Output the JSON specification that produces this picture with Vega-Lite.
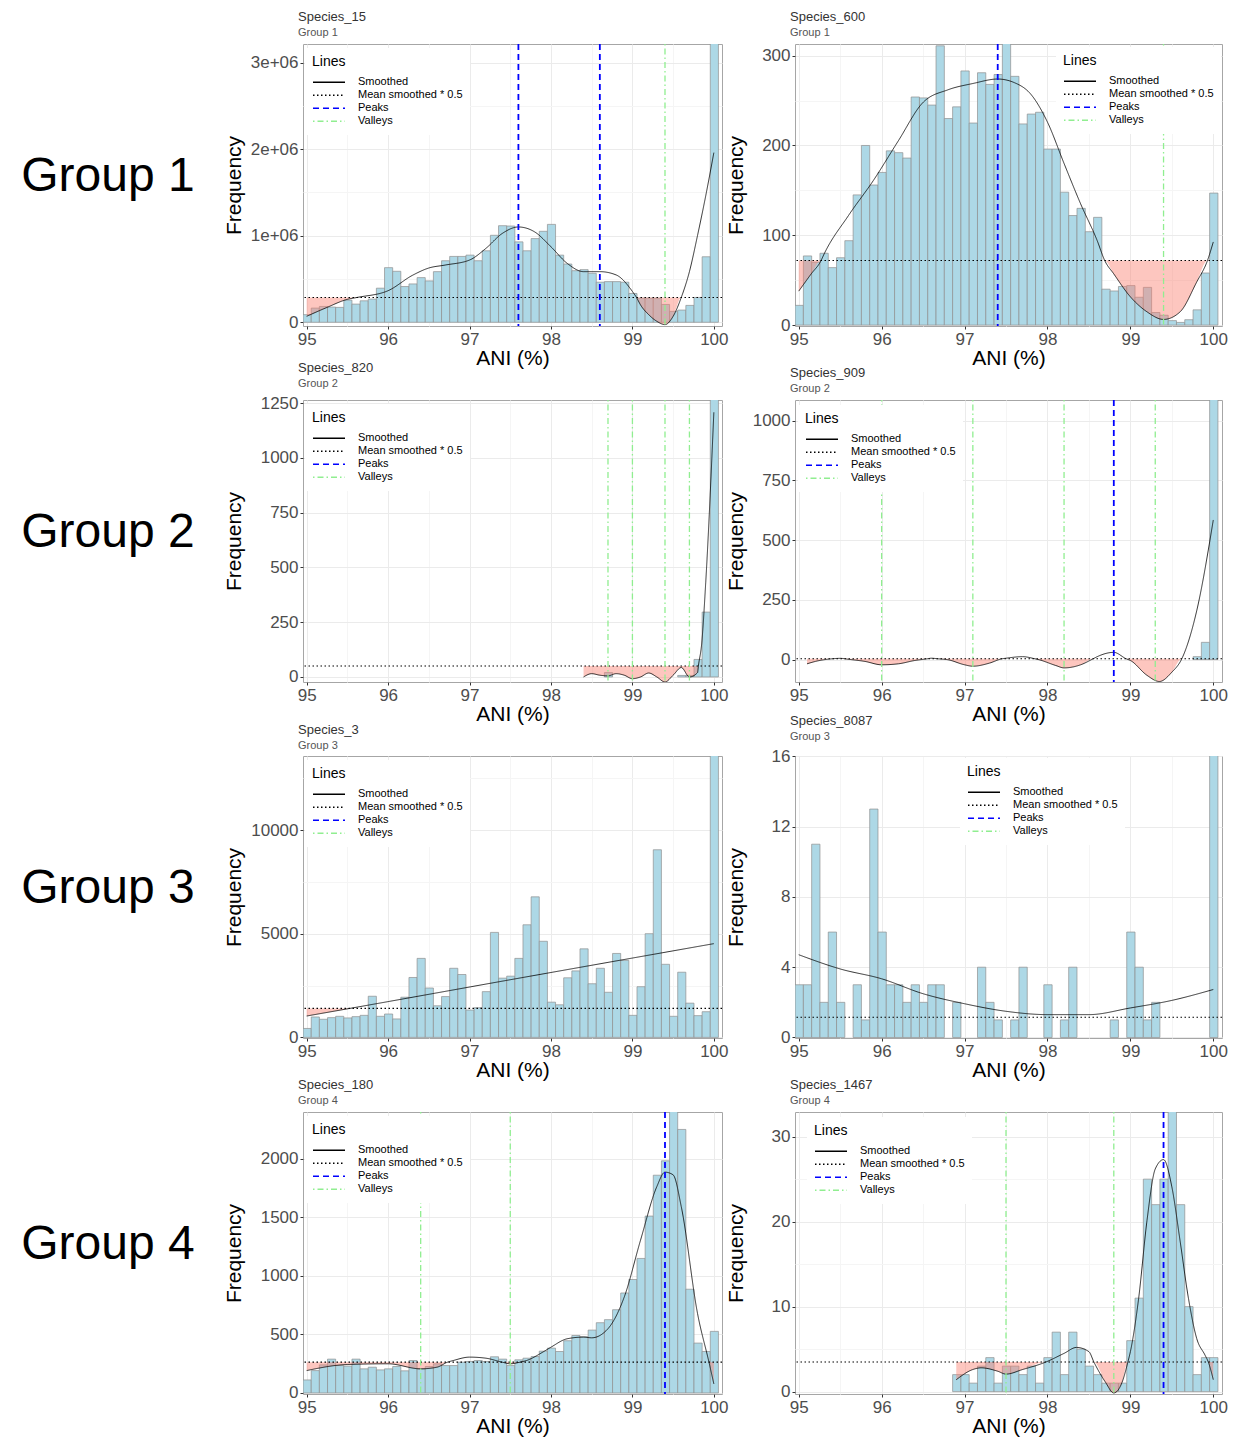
{
"$schema": "https://vega.github.io/schema/vega-lite/v6.json",
"padding": {"left": 0, "top": 10, "right": 0, "bottom": 0},
"background": "white",
"bounds": "flush",
"columns": 3,
"spacing": {"row": 74, "column": 73},
"resolve": {"scale": {"color": "independent", "strokeDash": "independent"}, "legend": {"color": "independent", "strokeDash": "independent"}},
"datasets": {
"b15": [{"x":94.95,"n":88000},{"x":95.05,"n":164000},{"x":95.15,"n":183000},{"x":95.25,"n":176000},{"x":95.35,"n":172000},{"x":95.45,"n":256000},{"x":95.55,"n":210000},{"x":95.65,"n":248000},{"x":95.75,"n":268000},{"x":95.85,"n":394000},{"x":95.95,"n":631000},{"x":96.05,"n":589000},{"x":96.15,"n":413000},{"x":96.25,"n":443000},{"x":96.35,"n":516000},{"x":96.45,"n":478000},{"x":96.55,"n":585000},{"x":96.65,"n":711000},{"x":96.75,"n":761000},{"x":96.85,"n":761000},{"x":96.95,"n":776000},{"x":97.05,"n":711000},{"x":97.15,"n":826000},{"x":97.25,"n":1005000},{"x":97.35,"n":1116000},{"x":97.45,"n":1112000},{"x":97.55,"n":929000},{"x":97.65,"n":826000},{"x":97.75,"n":967000},{"x":97.85,"n":1051000},{"x":97.95,"n":1131000},{"x":98.05,"n":776000},{"x":98.15,"n":673000},{"x":98.25,"n":596000},{"x":98.35,"n":608000},{"x":98.45,"n":566000},{"x":98.55,"n":463000},{"x":98.65,"n":470000},{"x":98.75,"n":470000},{"x":98.85,"n":463000},{"x":98.95,"n":333000},{"x":99.05,"n":279000},{"x":99.15,"n":279000},{"x":99.25,"n":279000},{"x":99.35,"n":206000},{"x":99.45,"n":126000},{"x":99.55,"n":141000},{"x":99.65,"n":195000},{"x":99.75,"n":287000},{"x":99.85,"n":757000},{"x":99.95,"n":3600000}],
"s15": [{"x":95.0,"s":69000,"lo":69000},{"x":95.25,"s":172000,"lo":172000},{"x":95.5,"s":265000,"lo":265000},{"x":95.62,"s":287000,"lo":287000},{"x":96.0,"s":365000,"lo":287000},{"x":96.3,"s":543000,"lo":287000},{"x":96.5,"s":627000,"lo":287000},{"x":96.7,"s":661000,"lo":287000},{"x":97.0,"s":719000,"lo":287000},{"x":97.2,"s":853000,"lo":287000},{"x":97.4,"s":1025000,"lo":287000},{"x":97.6,"s":1101000,"lo":287000},{"x":97.8,"s":1044000,"lo":287000},{"x":98.0,"s":872000,"lo":287000},{"x":98.2,"s":680000,"lo":287000},{"x":98.4,"s":585000,"lo":287000},{"x":98.6,"s":585000,"lo":287000},{"x":98.8,"s":547000,"lo":287000},{"x":99.0,"s":356000,"lo":287000},{"x":99.05,"s":287000,"lo":287000},{"x":99.1,"s":200000,"lo":200000},{"x":99.2,"s":88000,"lo":88000},{"x":99.3,"s":11000,"lo":11000},{"x":99.4,"s":-27000,"lo":-27000},{"x":99.5,"s":69000,"lo":69000},{"x":99.6,"s":287000,"lo":287000},{"x":99.7,"s":585000,"lo":287000},{"x":99.8,"s":1005000,"lo":287000},{"x":99.9,"s":1460000,"lo":287000},{"x":100.0,"s":1960000,"lo":287000}],
"b600": [{"x":94.95,"n":22},{"x":95.05,"n":77},{"x":95.15,"n":70},{"x":95.25,"n":80},{"x":95.35,"n":64},{"x":95.45,"n":75},{"x":95.55,"n":94},{"x":95.65,"n":145},{"x":95.75,"n":200},{"x":95.85,"n":156},{"x":95.95,"n":170},{"x":96.05,"n":194},{"x":96.15,"n":192},{"x":96.25,"n":186},{"x":96.35,"n":254},{"x":96.45,"n":253},{"x":96.55,"n":245},{"x":96.65,"n":311},{"x":96.75,"n":230},{"x":96.85,"n":243},{"x":96.95,"n":283},{"x":97.05,"n":225},{"x":97.15,"n":281},{"x":97.25,"n":268},{"x":97.35,"n":279},{"x":97.45,"n":330},{"x":97.55,"n":277},{"x":97.65,"n":224},{"x":97.75,"n":235},{"x":97.85,"n":237},{"x":97.95,"n":196},{"x":98.05,"n":196},{"x":98.15,"n":148},{"x":98.25,"n":122},{"x":98.35,"n":130},{"x":98.45,"n":104},{"x":98.55,"n":120},{"x":98.65,"n":40},{"x":98.75,"n":38},{"x":98.85,"n":43},{"x":98.95,"n":44},{"x":99.05,"n":31},{"x":99.15,"n":42},{"x":99.25,"n":14},{"x":99.35,"n":11},{"x":99.45,"n":5},{"x":99.55,"n":3},{"x":99.65,"n":6},{"x":99.75,"n":17},{"x":99.85,"n":58},{"x":99.95,"n":147}],
"s600": [{"x":95.0,"s":37.8,"lo":37.8},{"x":95.15,"s":57,"lo":57},{"x":95.27,"s":72,"lo":72},{"x":95.3,"s":78,"lo":72},{"x":95.6,"s":122,"lo":72},{"x":95.9,"s":161,"lo":72},{"x":96.2,"s":205,"lo":72},{"x":96.5,"s":248,"lo":72},{"x":96.8,"s":262,"lo":72},{"x":97.1,"s":269,"lo":72},{"x":97.4,"s":274,"lo":72},{"x":97.6,"s":270,"lo":72},{"x":97.8,"s":257,"lo":72},{"x":98.0,"s":226,"lo":72},{"x":98.2,"s":180,"lo":72},{"x":98.4,"s":135,"lo":72},{"x":98.6,"s":94,"lo":72},{"x":98.69,"s":72,"lo":72},{"x":98.8,"s":57,"lo":57},{"x":99.0,"s":31.5,"lo":31.5},{"x":99.2,"s":14.8,"lo":14.8},{"x":99.4,"s":6.3,"lo":6.3},{"x":99.6,"s":14.8,"lo":14.8},{"x":99.8,"s":48,"lo":48},{"x":99.93,"s":72,"lo":72},{"x":100.0,"s":92.6,"lo":72}],
"b820": [{"x":98.65,"n":20},{"x":99.55,"n":7},{"x":99.65,"n":7},{"x":99.75,"n":80},{"x":99.85,"n":296},{"x":99.95,"n":1500}],
"s820": [{"x":98.4,"s":0,"lo":0},{"x":98.5,"s":15,"lo":15},{"x":98.6,"s":8,"lo":8},{"x":98.7,"s":5,"lo":5},{"x":98.8,"s":15,"lo":15},{"x":98.9,"s":8,"lo":8},{"x":99.0,"s":-8,"lo":-8},{"x":99.1,"s":0,"lo":0},{"x":99.2,"s":18,"lo":18},{"x":99.3,"s":0,"lo":0},{"x":99.4,"s":-23,"lo":-23},{"x":99.5,"s":8,"lo":8},{"x":99.6,"s":43,"lo":43},{"x":99.7,"s":0,"lo":0},{"x":99.8,"s":20,"lo":20},{"x":99.81,"s":50,"lo":50},{"x":99.85,"s":150,"lo":50},{"x":99.9,"s":430,"lo":50},{"x":100.0,"s":1208,"lo":50}],
"b909": [{"x":99.75,"n":12},{"x":99.85,"n":72},{"x":99.95,"n":1500}],
"s909": [{"x":95.1,"s":-18,"lo":-18},{"x":95.2,"s":-8,"lo":-8},{"x":95.4,"s":3,"lo":3},{"x":95.5,"s":5,"lo":3},{"x":95.6,"s":1,"lo":1},{"x":95.8,"s":-8,"lo":-8},{"x":96.0,"s":-22,"lo":-22},{"x":96.2,"s":-18,"lo":-18},{"x":96.4,"s":-4,"lo":-4},{"x":96.55,"s":3,"lo":3},{"x":96.6,"s":5.5,"lo":3},{"x":96.68,"s":3,"lo":3},{"x":96.8,"s":-1,"lo":-1},{"x":97.0,"s":-22,"lo":-22},{"x":97.1,"s":-28,"lo":-28},{"x":97.3,"s":-15,"lo":-15},{"x":97.45,"s":3,"lo":3},{"x":97.5,"s":5.5,"lo":3},{"x":97.7,"s":12,"lo":3},{"x":97.85,"s":3,"lo":3},{"x":97.9,"s":-1,"lo":-1},{"x":98.1,"s":-25,"lo":-25},{"x":98.2,"s":-35,"lo":-35},{"x":98.4,"s":-22,"lo":-22},{"x":98.55,"s":3,"lo":3},{"x":98.6,"s":12,"lo":3},{"x":98.8,"s":30,"lo":3},{"x":98.95,"s":3,"lo":3},{"x":99.0,"s":-4,"lo":-4},{"x":99.2,"s":-66,"lo":-66},{"x":99.35,"s":-92,"lo":-92},{"x":99.5,"s":-53,"lo":-53},{"x":99.62,"s":3,"lo":3},{"x":99.8,"s":204,"lo":3},{"x":100.0,"s":584,"lo":3}],
"b3": [{"x":94.95,"n":430},{"x":95.05,"n":985},{"x":95.15,"n":873},{"x":95.25,"n":952},{"x":95.35,"n":1016},{"x":95.45,"n":937},{"x":95.55,"n":1000},{"x":95.65,"n":1063},{"x":95.75,"n":1984},{"x":95.85,"n":1016},{"x":95.95,"n":1127},{"x":96.05,"n":889},{"x":96.15,"n":1937},{"x":96.25,"n":2889},{"x":96.35,"n":3810},{"x":96.45,"n":2381},{"x":96.55,"n":1524},{"x":96.65,"n":1968},{"x":96.75,"n":3333},{"x":96.85,"n":3032},{"x":96.95,"n":1317},{"x":97.05,"n":1429},{"x":97.15,"n":2206},{"x":97.25,"n":5063},{"x":97.35,"n":2857},{"x":97.45,"n":2952},{"x":97.55,"n":3810},{"x":97.65,"n":5429},{"x":97.75,"n":6778},{"x":97.85,"n":4635},{"x":97.95,"n":1698},{"x":98.05,"n":1571},{"x":98.15,"n":2873},{"x":98.25,"n":3206},{"x":98.35,"n":4270},{"x":98.45,"n":2587},{"x":98.55,"n":3333},{"x":98.65,"n":2175},{"x":98.75,"n":4048},{"x":98.85,"n":3714},{"x":98.95,"n":1063},{"x":99.05,"n":2444},{"x":99.15,"n":5000},{"x":99.25,"n":9048},{"x":99.35,"n":3524},{"x":99.45,"n":1016},{"x":99.55,"n":3143},{"x":99.65,"n":1651},{"x":99.75,"n":1048},{"x":99.85,"n":1238},{"x":99.95,"n":15000}],
"s3": [{"x":95.0,"s":1030,"lo":1030},{"x":95.53,"s":1397,"lo":1397},{"x":97.5,"s":2780,"lo":1397},{"x":100.0,"s":4520,"lo":1397}],
"b8087": [{"x":94.95,"n":3},{"x":95.05,"n":3},{"x":95.15,"n":11},{"x":95.25,"n":2},{"x":95.35,"n":6},{"x":95.45,"n":2},{"x":95.65,"n":3},{"x":95.75,"n":1},{"x":95.85,"n":13},{"x":95.95,"n":6},{"x":96.05,"n":3},{"x":96.15,"n":3},{"x":96.25,"n":2},{"x":96.35,"n":3},{"x":96.45,"n":2},{"x":96.55,"n":3},{"x":96.65,"n":3},{"x":96.85,"n":2},{"x":97.15,"n":4},{"x":97.25,"n":2},{"x":97.35,"n":1},{"x":97.55,"n":1},{"x":97.65,"n":4},{"x":97.95,"n":3},{"x":98.15,"n":1},{"x":98.25,"n":4},{"x":98.75,"n":1},{"x":98.95,"n":6},{"x":99.05,"n":4},{"x":99.15,"n":1},{"x":99.25,"n":2},{"x":99.95,"n":20}],
"s8087": [{"x":95.0,"s":4.71},{"x":95.5,"s":3.9},{"x":96.0,"s":3.34},{"x":96.5,"s":2.49},{"x":97.0,"s":1.92},{"x":97.5,"s":1.49},{"x":98.0,"s":1.3},{"x":98.5,"s":1.3},{"x":99.0,"s":1.68},{"x":99.5,"s":2.11},{"x":100.0,"s":2.73}],
"b180": [{"x":94.95,"n":111},{"x":95.05,"n":191},{"x":95.15,"n":240},{"x":95.25,"n":289},{"x":95.35,"n":234},{"x":95.45,"n":229},{"x":95.55,"n":289},{"x":95.65,"n":206},{"x":95.75,"n":220},{"x":95.85,"n":197},{"x":95.95,"n":206},{"x":96.05,"n":226},{"x":96.15,"n":189},{"x":96.25,"n":277},{"x":96.35,"n":206},{"x":96.45,"n":226},{"x":96.55,"n":249},{"x":96.65,"n":234},{"x":96.75,"n":234},{"x":96.85,"n":263},{"x":96.95,"n":269},{"x":97.05,"n":277},{"x":97.15,"n":269},{"x":97.25,"n":309},{"x":97.35,"n":289},{"x":97.45,"n":234},{"x":97.55,"n":283},{"x":97.65,"n":297},{"x":97.75,"n":311},{"x":97.85,"n":357},{"x":97.95,"n":383},{"x":98.05,"n":354},{"x":98.15,"n":446},{"x":98.25,"n":491},{"x":98.35,"n":480},{"x":98.45,"n":537},{"x":98.55,"n":600},{"x":98.65,"n":626},{"x":98.75,"n":711},{"x":98.85,"n":854},{"x":98.95,"n":969},{"x":99.05,"n":1149},{"x":99.15,"n":1511},{"x":99.25,"n":1860},{"x":99.35,"n":1983},{"x":99.45,"n":2450},{"x":99.55,"n":2251},{"x":99.65,"n":886},{"x":99.75,"n":426},{"x":99.85,"n":354},{"x":99.95,"n":526}],
"s180": [{"x":95.0,"s":191,"lo":191},{"x":95.5,"s":243,"lo":243},{"x":96.0,"s":249,"lo":249},{"x":96.4,"s":206,"lo":206},{"x":96.6,"s":220,"lo":220},{"x":96.73,"s":263,"lo":263},{"x":96.8,"s":277,"lo":263},{"x":97.0,"s":306,"lo":263},{"x":97.2,"s":297,"lo":263},{"x":97.4,"s":263,"lo":263},{"x":97.5,"s":249,"lo":249},{"x":97.62,"s":263,"lo":263},{"x":97.7,"s":277,"lo":263},{"x":97.9,"s":349,"lo":263},{"x":98.0,"s":391,"lo":263},{"x":98.2,"s":463,"lo":263},{"x":98.4,"s":477,"lo":263},{"x":98.5,"s":471,"lo":263},{"x":98.7,"s":549,"lo":263},{"x":98.9,"s":820,"lo":263},{"x":99.1,"s":1306,"lo":263},{"x":99.3,"s":1763,"lo":263},{"x":99.4,"s":1886,"lo":263},{"x":99.5,"s":1863,"lo":263},{"x":99.6,"s":1591,"lo":263},{"x":99.8,"s":677,"lo":263},{"x":99.94,"s":263,"lo":263},{"x":100.0,"s":77,"lo":77}],
"b1467": [{"x":96.85,"n":2},{"x":96.95,"n":2},{"x":97.05,"n":1},{"x":97.15,"n":3},{"x":97.25,"n":4},{"x":97.35,"n":1},{"x":97.45,"n":3},{"x":97.55,"n":3},{"x":97.65,"n":2},{"x":97.75,"n":3},{"x":97.85,"n":1},{"x":97.95,"n":4},{"x":98.05,"n":7},{"x":98.15,"n":2},{"x":98.25,"n":7},{"x":98.35,"n":5},{"x":98.45,"n":3},{"x":98.55,"n":2},{"x":98.65,"n":1},{"x":98.75,"n":1},{"x":98.85,"n":1},{"x":98.95,"n":6},{"x":99.05,"n":11},{"x":99.15,"n":25},{"x":99.25,"n":22},{"x":99.35,"n":25},{"x":99.45,"n":36},{"x":99.55,"n":22},{"x":99.65,"n":10},{"x":99.75,"n":2},{"x":99.85,"n":4},{"x":99.95,"n":4}],
"s1467": [{"x":96.9,"s":1.4,"lo":1.4},{"x":97.1,"s":2.6,"lo":2.6},{"x":97.2,"s":2.8,"lo":2.8},{"x":97.4,"s":2.4,"lo":2.4},{"x":97.5,"s":2.06,"lo":2.06},{"x":97.7,"s":2.6,"lo":2.6},{"x":97.98,"s":3.48,"lo":3.48},{"x":98.2,"s":4.5,"lo":3.48},{"x":98.35,"s":5.2,"lo":3.48},{"x":98.5,"s":4.7,"lo":3.48},{"x":98.56,"s":3.48,"lo":3.48},{"x":98.7,"s":1.1,"lo":1.1},{"x":98.8,"s":-0.16,"lo":-0.16},{"x":98.9,"s":1.1,"lo":1.1},{"x":98.97,"s":3.48,"lo":3.48},{"x":99.0,"s":4.7,"lo":3.48},{"x":99.1,"s":11,"lo":3.48},{"x":99.2,"s":20.1,"lo":3.48},{"x":99.3,"s":26.2,"lo":3.48},{"x":99.4,"s":27.3,"lo":3.48},{"x":99.5,"s":24.1,"lo":3.48},{"x":99.6,"s":17.7,"lo":3.48},{"x":99.7,"s":11,"lo":3.48},{"x":99.8,"s":6.25,"lo":3.48},{"x":99.9,"s":4.3,"lo":3.48},{"x":99.94,"s":3.48,"lo":3.48},{"x":100.0,"s":1.4,"lo":1.4}]
},
"concat": [
 {"data": {"values": [{"g": "Group 1"}]}, "width": 230, "height": 282, "view": {"stroke": null}, "mark": {"type": "text", "fontSize": 48, "dx": -7, "dy": -8, "align": "center", "baseline": "middle", "color": "black"}, "encoding": {"text": {"field": "g"}}},
 {"width": 419, "height": 282, "title": {"text": "Species_15", "subtitle": "Group 1"},
  "layer": [
   {"data": {"name": "b15"}, "mark": {"type": "bar", "fill": "#ADD8E6", "stroke": "#8f8f8f", "strokeWidth": 0.7, "binSpacing": 0, "clip": true},
    "encoding": {"x": {"field": "x", "type": "quantitative", "bin": {"binned": true, "step": 0.1}, "scale": {"domain": [94.955, 100.1], "nice": false, "zero": false}, "axis": {"title": "ANI (%)", "values": [95,95.5,96,96.5,97,97.5,98,98.5,99,99.5,100], "labelExpr": "datum.value % 1 === 0 ? '' + datum.value : ''", "gridColor": {"condition": {"test": "datum.value % 1 === 0", "value": "#ebebeb"}, "value": "#f5f5f5"}, "tickOpacity": {"condition": {"test": "datum.value % 1 === 0", "value": 1}, "value": 0}}},
     "y": {"field": "n", "type": "quantitative", "scale": {"domain": [-43000, 3215000], "nice": false, "zero": false}, "axis": {"title": "Frequency", "minExtent": 56, "maxExtent": 56, "values": [0,500000,1000000,1500000,2000000,2500000,3000000], "labelExpr": "datum.value % 1000000 === 0 ? (datum.value === 0 ? '0' : (datum.value/1000000) + 'e+06') : ''", "gridColor": {"condition": {"test": "datum.value % 1000000 === 0", "value": "#ebebeb"}, "value": "#f5f5f5"}, "tickOpacity": {"condition": {"test": "datum.value % 1000000 === 0", "value": 1}, "value": 0}}}}},
   {"data": {"name": "s15"}, "mark": {"type": "area", "fill": "#FA8072", "opacity": 0.45, "interpolate": "monotone", "clip": true}, "encoding": {"x": {"field": "x", "type": "quantitative"}, "y": {"field": "lo", "type": "quantitative"}, "y2": {"datum": 287000}}},
   {"data": {"name": "s15"}, "mark": {"type": "line", "strokeWidth": 0.8, "interpolate": "monotone", "clip": true}, "encoding": {"x": {"field": "x", "type": "quantitative"}, "y": {"field": "s", "type": "quantitative"},
     "color": {"datum": "Smoothed", "scale": {"domain": ["Smoothed","Mean smoothed * 0.5","Peaks","Valleys"], "range": ["black","black","#0000FF","#90EE90"]}, "legend": {"title": "Lines", "orient": "none", "legendX": 2, "legendY": 4}},
     "strokeDash": {"datum": "Smoothed", "scale": {"domain": ["Smoothed","Mean smoothed * 0.5","Peaks","Valleys"], "range": [[1,0],[1.5,2.5],[6,4],[1.5,3,6,3]]}, "legend": {"title": "Lines", "orient": "none", "legendX": 2, "legendY": 4}}}},
   {"data": {"values": [{"t": 287000}]}, "mark": {"type": "rule", "strokeWidth": 1.1}, "encoding": {"y": {"field": "t", "type": "quantitative"}, "color": {"datum": "Mean smoothed * 0.5"}, "strokeDash": {"datum": "Mean smoothed * 0.5"}}},
   {"data": {"values": [{"p": 97.6}, {"p": 98.6}]}, "mark": {"type": "rule", "strokeWidth": 1.8}, "encoding": {"x": {"field": "p", "type": "quantitative"}, "color": {"datum": "Peaks"}, "strokeDash": {"datum": "Peaks"}}},
   {"data": {"values": [{"v": 99.4}]}, "mark": {"type": "rule", "strokeWidth": 1.3}, "encoding": {"x": {"field": "v", "type": "quantitative"}, "color": {"datum": "Valleys"}, "strokeDash": {"datum": "Valleys"}}}
  ]},
 {"width": 427, "height": 282, "title": {"text": "Species_600", "subtitle": "Group 1"},
  "layer": [
   {"data": {"name": "b600"}, "mark": {"type": "bar", "fill": "#ADD8E6", "stroke": "#8f8f8f", "strokeWidth": 0.7, "binSpacing": 0, "clip": true},
    "encoding": {"x": {"field": "x", "type": "quantitative", "bin": {"binned": true, "step": 0.1}, "scale": {"domain": [94.955, 100.105], "nice": false, "zero": false}, "axis": {"title": "ANI (%)", "values": [95,95.5,96,96.5,97,97.5,98,98.5,99,99.5,100], "labelExpr": "datum.value % 1 === 0 ? '' + datum.value : ''", "gridColor": {"condition": {"test": "datum.value % 1 === 0", "value": "#ebebeb"}, "value": "#f5f5f5"}, "tickOpacity": {"condition": {"test": "datum.value % 1 === 0", "value": 1}, "value": 0}}},
     "y": {"field": "n", "type": "quantitative", "scale": {"domain": [-1, 313], "nice": false, "zero": false}, "axis": {"title": "Frequency", "minExtent": 46, "maxExtent": 46, "values": [0,50,100,150,200,250,300], "labelExpr": "datum.value % 100 === 0 ? '' + datum.value : ''", "gridColor": {"condition": {"test": "datum.value % 100 === 0", "value": "#ebebeb"}, "value": "#f5f5f5"}, "tickOpacity": {"condition": {"test": "datum.value % 100 === 0", "value": 1}, "value": 0}}}}},
   {"data": {"name": "s600"}, "mark": {"type": "area", "fill": "#FA8072", "opacity": 0.45, "interpolate": "monotone", "clip": true}, "encoding": {"x": {"field": "x", "type": "quantitative"}, "y": {"field": "lo", "type": "quantitative"}, "y2": {"datum": 72}}},
   {"data": {"name": "s600"}, "mark": {"type": "line", "strokeWidth": 0.8, "interpolate": "monotone", "clip": true}, "encoding": {"x": {"field": "x", "type": "quantitative"}, "y": {"field": "s", "type": "quantitative"},
     "color": {"datum": "Smoothed", "scale": {"domain": ["Smoothed","Mean smoothed * 0.5","Peaks","Valleys"], "range": ["black","black","#0000FF","#90EE90"]}, "legend": {"title": "Lines", "orient": "none", "legendX": 261, "legendY": 3}},
     "strokeDash": {"datum": "Smoothed", "scale": {"domain": ["Smoothed","Mean smoothed * 0.5","Peaks","Valleys"], "range": [[1,0],[1.5,2.5],[6,4],[1.5,3,6,3]]}, "legend": {"title": "Lines", "orient": "none", "legendX": 261, "legendY": 3}}}},
   {"data": {"values": [{"t": 72}]}, "mark": {"type": "rule", "strokeWidth": 1.1}, "encoding": {"y": {"field": "t", "type": "quantitative"}, "color": {"datum": "Mean smoothed * 0.5"}, "strokeDash": {"datum": "Mean smoothed * 0.5"}}},
   {"data": {"values": [{"p": 97.4}]}, "mark": {"type": "rule", "strokeWidth": 1.8}, "encoding": {"x": {"field": "p", "type": "quantitative"}, "color": {"datum": "Peaks"}, "strokeDash": {"datum": "Peaks"}}},
   {"data": {"values": [{"v": 99.4}]}, "mark": {"type": "rule", "strokeWidth": 1.3}, "encoding": {"x": {"field": "v", "type": "quantitative"}, "color": {"datum": "Valleys"}, "strokeDash": {"datum": "Valleys"}}}
  ]},
 {"data": {"values": [{"g": "Group 2"}]}, "width": 230, "height": 282, "view": {"stroke": null}, "mark": {"type": "text", "fontSize": 48, "dx": -7, "dy": -8, "align": "center", "baseline": "middle", "color": "black"}, "encoding": {"text": {"field": "g"}}},
 {"width": 419, "height": 282, "title": {"text": "Species_820", "subtitle": "Group 2"},
  "layer": [
   {"data": {"name": "b820"}, "mark": {"type": "bar", "fill": "#ADD8E6", "stroke": "#8f8f8f", "strokeWidth": 0.7, "binSpacing": 0, "clip": true},
    "encoding": {"x": {"field": "x", "type": "quantitative", "bin": {"binned": true, "step": 0.1}, "scale": {"domain": [94.955, 100.1], "nice": false, "zero": false}, "axis": {"title": "ANI (%)", "values": [95,95.5,96,96.5,97,97.5,98,98.5,99,99.5,100], "labelExpr": "datum.value % 1 === 0 ? '' + datum.value : ''", "gridColor": {"condition": {"test": "datum.value % 1 === 0", "value": "#ebebeb"}, "value": "#f5f5f5"}, "tickOpacity": {"condition": {"test": "datum.value % 1 === 0", "value": 1}, "value": 0}}},
     "y": {"field": "n", "type": "quantitative", "scale": {"domain": [-23, 1264], "nice": false, "zero": false}, "axis": {"title": "Frequency", "minExtent": 56, "maxExtent": 56, "values": [0,125,250,375,500,625,750,875,1000,1125,1250], "labelExpr": "datum.value % 250 === 0 ? '' + datum.value : ''", "gridColor": {"condition": {"test": "datum.value % 250 === 0", "value": "#ebebeb"}, "value": "#f5f5f5"}, "tickOpacity": {"condition": {"test": "datum.value % 250 === 0", "value": 1}, "value": 0}}}}},
   {"data": {"name": "s820"}, "mark": {"type": "area", "fill": "#FA8072", "opacity": 0.45, "interpolate": "monotone", "clip": true}, "encoding": {"x": {"field": "x", "type": "quantitative"}, "y": {"field": "lo", "type": "quantitative"}, "y2": {"datum": 50}}},
   {"data": {"name": "s820"}, "mark": {"type": "line", "strokeWidth": 0.8, "interpolate": "monotone", "clip": true}, "encoding": {"x": {"field": "x", "type": "quantitative"}, "y": {"field": "s", "type": "quantitative"},
     "color": {"datum": "Smoothed", "scale": {"domain": ["Smoothed","Mean smoothed * 0.5","Peaks","Valleys"], "range": ["black","black","#0000FF","#90EE90"]}, "legend": {"title": "Lines", "orient": "none", "legendX": 2, "legendY": 4}},
     "strokeDash": {"datum": "Smoothed", "scale": {"domain": ["Smoothed","Mean smoothed * 0.5","Peaks","Valleys"], "range": [[1,0],[1.5,2.5],[6,4],[1.5,3,6,3]]}, "legend": {"title": "Lines", "orient": "none", "legendX": 2, "legendY": 4}}}},
   {"data": {"values": [{"t": 50}]}, "mark": {"type": "rule", "strokeWidth": 1.1}, "encoding": {"y": {"field": "t", "type": "quantitative"}, "color": {"datum": "Mean smoothed * 0.5"}, "strokeDash": {"datum": "Mean smoothed * 0.5"}}},
   {"data": {"values": [{"v": 98.7}, {"v": 99.0}, {"v": 99.4}, {"v": 99.7}]}, "mark": {"type": "rule", "strokeWidth": 1.3}, "encoding": {"x": {"field": "v", "type": "quantitative"}, "color": {"datum": "Valleys"}, "strokeDash": {"datum": "Valleys"}}}
  ]},
 {"width": 427, "height": 282, "title": {"text": "Species_909", "subtitle": "Group 2"},
  "layer": [
   {"data": {"name": "b909"}, "mark": {"type": "bar", "fill": "#ADD8E6", "stroke": "#8f8f8f", "strokeWidth": 0.7, "binSpacing": 0, "clip": true},
    "encoding": {"x": {"field": "x", "type": "quantitative", "bin": {"binned": true, "step": 0.1}, "scale": {"domain": [94.955, 100.105], "nice": false, "zero": false}, "axis": {"title": "ANI (%)", "values": [95,95.5,96,96.5,97,97.5,98,98.5,99,99.5,100], "labelExpr": "datum.value % 1 === 0 ? '' + datum.value : ''", "gridColor": {"condition": {"test": "datum.value % 1 === 0", "value": "#ebebeb"}, "value": "#f5f5f5"}, "tickOpacity": {"condition": {"test": "datum.value % 1 === 0", "value": 1}, "value": 0}}},
     "y": {"field": "n", "type": "quantitative", "scale": {"domain": [-94, 1086], "nice": false, "zero": false}, "axis": {"title": "Frequency", "minExtent": 46, "maxExtent": 46, "values": [0,125,250,375,500,625,750,875,1000], "labelExpr": "datum.value % 250 === 0 ? '' + datum.value : ''", "gridColor": {"condition": {"test": "datum.value % 250 === 0", "value": "#ebebeb"}, "value": "#f5f5f5"}, "tickOpacity": {"condition": {"test": "datum.value % 250 === 0", "value": 1}, "value": 0}}}}},
   {"data": {"name": "s909"}, "mark": {"type": "area", "fill": "#FA8072", "opacity": 0.45, "interpolate": "monotone", "clip": true}, "encoding": {"x": {"field": "x", "type": "quantitative"}, "y": {"field": "lo", "type": "quantitative"}, "y2": {"datum": 3}}},
   {"data": {"name": "s909"}, "mark": {"type": "line", "strokeWidth": 0.8, "interpolate": "monotone", "clip": true}, "encoding": {"x": {"field": "x", "type": "quantitative"}, "y": {"field": "s", "type": "quantitative"},
     "color": {"datum": "Smoothed", "scale": {"domain": ["Smoothed","Mean smoothed * 0.5","Peaks","Valleys"], "range": ["black","black","#0000FF","#90EE90"]}, "legend": {"title": "Lines", "orient": "none", "legendX": 3, "legendY": 5}},
     "strokeDash": {"datum": "Smoothed", "scale": {"domain": ["Smoothed","Mean smoothed * 0.5","Peaks","Valleys"], "range": [[1,0],[1.5,2.5],[6,4],[1.5,3,6,3]]}, "legend": {"title": "Lines", "orient": "none", "legendX": 3, "legendY": 5}}}},
   {"data": {"values": [{"t": 3}]}, "mark": {"type": "rule", "strokeWidth": 1.1}, "encoding": {"y": {"field": "t", "type": "quantitative"}, "color": {"datum": "Mean smoothed * 0.5"}, "strokeDash": {"datum": "Mean smoothed * 0.5"}}},
   {"data": {"values": [{"p": 98.8}]}, "mark": {"type": "rule", "strokeWidth": 1.8}, "encoding": {"x": {"field": "p", "type": "quantitative"}, "color": {"datum": "Peaks"}, "strokeDash": {"datum": "Peaks"}}},
   {"data": {"values": [{"v": 96.0}, {"v": 97.1}, {"v": 98.2}, {"v": 99.3}]}, "mark": {"type": "rule", "strokeWidth": 1.3}, "encoding": {"x": {"field": "v", "type": "quantitative"}, "color": {"datum": "Valleys"}, "strokeDash": {"datum": "Valleys"}}}
  ]},
 {"data": {"values": [{"g": "Group 3"}]}, "width": 230, "height": 282, "view": {"stroke": null}, "mark": {"type": "text", "fontSize": 48, "dx": -7, "dy": -8, "align": "center", "baseline": "middle", "color": "black"}, "encoding": {"text": {"field": "g"}}},
 {"width": 419, "height": 282, "title": {"text": "Species_3", "subtitle": "Group 3"},
  "layer": [
   {"data": {"name": "b3"}, "mark": {"type": "bar", "fill": "#ADD8E6", "stroke": "#8f8f8f", "strokeWidth": 0.7, "binSpacing": 0, "clip": true},
    "encoding": {"x": {"field": "x", "type": "quantitative", "bin": {"binned": true, "step": 0.1}, "scale": {"domain": [94.955, 100.1], "nice": false, "zero": false}, "axis": {"title": "ANI (%)", "values": [95,95.5,96,96.5,97,97.5,98,98.5,99,99.5,100], "labelExpr": "datum.value % 1 === 0 ? '' + datum.value : ''", "gridColor": {"condition": {"test": "datum.value % 1 === 0", "value": "#ebebeb"}, "value": "#f5f5f5"}, "tickOpacity": {"condition": {"test": "datum.value % 1 === 0", "value": 1}, "value": 0}}},
     "y": {"field": "n", "type": "quantitative", "scale": {"domain": [-30, 13570], "nice": false, "zero": false}, "axis": {"title": "Frequency", "minExtent": 56, "maxExtent": 56, "values": [0,2500,5000,7500,10000,12500], "labelExpr": "datum.value % 5000 === 0 ? '' + datum.value : ''", "gridColor": {"condition": {"test": "datum.value % 5000 === 0", "value": "#ebebeb"}, "value": "#f5f5f5"}, "tickOpacity": {"condition": {"test": "datum.value % 5000 === 0", "value": 1}, "value": 0}}}}},
   {"data": {"name": "s3"}, "mark": {"type": "area", "fill": "#FA8072", "opacity": 0.45, "clip": true}, "encoding": {"x": {"field": "x", "type": "quantitative"}, "y": {"field": "lo", "type": "quantitative"}, "y2": {"datum": 1397}}},
   {"data": {"name": "s3"}, "mark": {"type": "line", "strokeWidth": 0.8, "interpolate": "monotone", "clip": true}, "encoding": {"x": {"field": "x", "type": "quantitative"}, "y": {"field": "s", "type": "quantitative"},
     "color": {"datum": "Smoothed", "scale": {"domain": ["Smoothed","Mean smoothed * 0.5","Peaks","Valleys"], "range": ["black","black","#0000FF","#90EE90"]}, "legend": {"title": "Lines", "orient": "none", "legendX": 2, "legendY": 4}},
     "strokeDash": {"datum": "Smoothed", "scale": {"domain": ["Smoothed","Mean smoothed * 0.5","Peaks","Valleys"], "range": [[1,0],[1.5,2.5],[6,4],[1.5,3,6,3]]}, "legend": {"title": "Lines", "orient": "none", "legendX": 2, "legendY": 4}}}},
   {"data": {"values": [{"t": 1397}]}, "mark": {"type": "rule", "strokeWidth": 1.1}, "encoding": {"y": {"field": "t", "type": "quantitative"}, "color": {"datum": "Mean smoothed * 0.5"}, "strokeDash": {"datum": "Mean smoothed * 0.5"}}}
  ]},
 {"width": 427, "height": 282, "title": {"text": "Species_8087", "subtitle": "Group 3"},
  "layer": [
   {"data": {"name": "b8087"}, "mark": {"type": "bar", "fill": "#ADD8E6", "stroke": "#8f8f8f", "strokeWidth": 0.7, "binSpacing": 0, "clip": true},
    "encoding": {"x": {"field": "x", "type": "quantitative", "bin": {"binned": true, "step": 0.1}, "scale": {"domain": [94.955, 100.105], "nice": false, "zero": false}, "axis": {"title": "ANI (%)", "values": [95,95.5,96,96.5,97,97.5,98,98.5,99,99.5,100], "labelExpr": "datum.value % 1 === 0 ? '' + datum.value : ''", "gridColor": {"condition": {"test": "datum.value % 1 === 0", "value": "#ebebeb"}, "value": "#f5f5f5"}, "tickOpacity": {"condition": {"test": "datum.value % 1 === 0", "value": 1}, "value": 0}}},
     "y": {"field": "n", "type": "quantitative", "scale": {"domain": [-0.03, 16.02], "nice": false, "zero": false}, "axis": {"title": "Frequency", "minExtent": 46, "maxExtent": 46, "values": [0,2,4,6,8,10,12,14,16], "labelExpr": "datum.value % 4 === 0 ? '' + datum.value : ''", "gridColor": {"condition": {"test": "datum.value % 4 === 0", "value": "#ebebeb"}, "value": "#f5f5f5"}, "tickOpacity": {"condition": {"test": "datum.value % 4 === 0", "value": 1}, "value": 0}}}}},
   {"data": {"name": "s8087"}, "mark": {"type": "line", "strokeWidth": 0.8, "interpolate": "monotone", "clip": true}, "encoding": {"x": {"field": "x", "type": "quantitative"}, "y": {"field": "s", "type": "quantitative"},
     "color": {"datum": "Smoothed", "scale": {"domain": ["Smoothed","Mean smoothed * 0.5","Peaks","Valleys"], "range": ["black","black","#0000FF","#90EE90"]}, "legend": {"title": "Lines", "orient": "none", "legendX": 165, "legendY": 2}},
     "strokeDash": {"datum": "Smoothed", "scale": {"domain": ["Smoothed","Mean smoothed * 0.5","Peaks","Valleys"], "range": [[1,0],[1.5,2.5],[6,4],[1.5,3,6,3]]}, "legend": {"title": "Lines", "orient": "none", "legendX": 165, "legendY": 2}}}},
   {"data": {"values": [{"t": 1.15}]}, "mark": {"type": "rule", "strokeWidth": 1.1}, "encoding": {"y": {"field": "t", "type": "quantitative"}, "color": {"datum": "Mean smoothed * 0.5"}, "strokeDash": {"datum": "Mean smoothed * 0.5"}}}
  ]},
 {"data": {"values": [{"g": "Group 4"}]}, "width": 230, "height": 282, "view": {"stroke": null}, "mark": {"type": "text", "fontSize": 48, "dx": -7, "dy": -8, "align": "center", "baseline": "middle", "color": "black"}, "encoding": {"text": {"field": "g"}}},
 {"width": 419, "height": 282, "title": {"text": "Species_180", "subtitle": "Group 4"},
  "layer": [
   {"data": {"name": "b180"}, "mark": {"type": "bar", "fill": "#ADD8E6", "stroke": "#8f8f8f", "strokeWidth": 0.7, "binSpacing": 0, "clip": true},
    "encoding": {"x": {"field": "x", "type": "quantitative", "bin": {"binned": true, "step": 0.1}, "scale": {"domain": [94.955, 100.1], "nice": false, "zero": false}, "axis": {"title": "ANI (%)", "values": [95,95.5,96,96.5,97,97.5,98,98.5,99,99.5,100], "labelExpr": "datum.value % 1 === 0 ? '' + datum.value : ''", "gridColor": {"condition": {"test": "datum.value % 1 === 0", "value": "#ebebeb"}, "value": "#f5f5f5"}, "tickOpacity": {"condition": {"test": "datum.value % 1 === 0", "value": 1}, "value": 0}}},
     "y": {"field": "n", "type": "quantitative", "scale": {"domain": [-9, 2400], "nice": false, "zero": false}, "axis": {"title": "Frequency", "minExtent": 56, "maxExtent": 56, "values": [0,250,500,750,1000,1250,1500,1750,2000,2250], "labelExpr": "datum.value % 500 === 0 ? '' + datum.value : ''", "gridColor": {"condition": {"test": "datum.value % 500 === 0", "value": "#ebebeb"}, "value": "#f5f5f5"}, "tickOpacity": {"condition": {"test": "datum.value % 500 === 0", "value": 1}, "value": 0}}}}},
   {"data": {"name": "s180"}, "mark": {"type": "area", "fill": "#FA8072", "opacity": 0.45, "interpolate": "monotone", "clip": true}, "encoding": {"x": {"field": "x", "type": "quantitative"}, "y": {"field": "lo", "type": "quantitative"}, "y2": {"datum": 263}}},
   {"data": {"name": "s180"}, "mark": {"type": "line", "strokeWidth": 0.8, "interpolate": "monotone", "clip": true}, "encoding": {"x": {"field": "x", "type": "quantitative"}, "y": {"field": "s", "type": "quantitative"},
     "color": {"datum": "Smoothed", "scale": {"domain": ["Smoothed","Mean smoothed * 0.5","Peaks","Valleys"], "range": ["black","black","#0000FF","#90EE90"]}, "legend": {"title": "Lines", "orient": "none", "legendX": 2, "legendY": 4}},
     "strokeDash": {"datum": "Smoothed", "scale": {"domain": ["Smoothed","Mean smoothed * 0.5","Peaks","Valleys"], "range": [[1,0],[1.5,2.5],[6,4],[1.5,3,6,3]]}, "legend": {"title": "Lines", "orient": "none", "legendX": 2, "legendY": 4}}}},
   {"data": {"values": [{"t": 263}]}, "mark": {"type": "rule", "strokeWidth": 1.1}, "encoding": {"y": {"field": "t", "type": "quantitative"}, "color": {"datum": "Mean smoothed * 0.5"}, "strokeDash": {"datum": "Mean smoothed * 0.5"}}},
   {"data": {"values": [{"p": 99.4}]}, "mark": {"type": "rule", "strokeWidth": 1.8}, "encoding": {"x": {"field": "p", "type": "quantitative"}, "color": {"datum": "Peaks"}, "strokeDash": {"datum": "Peaks"}}},
   {"data": {"values": [{"v": 96.4}, {"v": 97.5}]}, "mark": {"type": "rule", "strokeWidth": 1.3}, "encoding": {"x": {"field": "v", "type": "quantitative"}, "color": {"datum": "Valleys"}, "strokeDash": {"datum": "Valleys"}}}
  ]},
 {"width": 427, "height": 282, "title": {"text": "Species_1467", "subtitle": "Group 4"},
  "layer": [
   {"data": {"name": "b1467"}, "mark": {"type": "bar", "fill": "#ADD8E6", "stroke": "#8f8f8f", "strokeWidth": 0.7, "binSpacing": 0, "clip": true},
    "encoding": {"x": {"field": "x", "type": "quantitative", "bin": {"binned": true, "step": 0.1}, "scale": {"domain": [94.955, 100.105], "nice": false, "zero": false}, "axis": {"title": "ANI (%)", "values": [95,95.5,96,96.5,97,97.5,98,98.5,99,99.5,100], "labelExpr": "datum.value % 1 === 0 ? '' + datum.value : ''", "gridColor": {"condition": {"test": "datum.value % 1 === 0", "value": "#ebebeb"}, "value": "#f5f5f5"}, "tickOpacity": {"condition": {"test": "datum.value % 1 === 0", "value": 1}, "value": 0}}},
     "y": {"field": "n", "type": "quantitative", "scale": {"domain": [-0.28, 32.9], "nice": false, "zero": false}, "axis": {"title": "Frequency", "minExtent": 46, "maxExtent": 46, "values": [0,5,10,15,20,25,30], "labelExpr": "datum.value % 10 === 0 ? '' + datum.value : ''", "gridColor": {"condition": {"test": "datum.value % 10 === 0", "value": "#ebebeb"}, "value": "#f5f5f5"}, "tickOpacity": {"condition": {"test": "datum.value % 10 === 0", "value": 1}, "value": 0}}}}},
   {"data": {"name": "s1467"}, "mark": {"type": "area", "fill": "#FA8072", "opacity": 0.45, "interpolate": "monotone", "clip": true}, "encoding": {"x": {"field": "x", "type": "quantitative"}, "y": {"field": "lo", "type": "quantitative"}, "y2": {"datum": 3.48}}},
   {"data": {"name": "s1467"}, "mark": {"type": "line", "strokeWidth": 0.8, "interpolate": "monotone", "clip": true}, "encoding": {"x": {"field": "x", "type": "quantitative"}, "y": {"field": "s", "type": "quantitative"},
     "color": {"datum": "Smoothed", "scale": {"domain": ["Smoothed","Mean smoothed * 0.5","Peaks","Valleys"], "range": ["black","black","#0000FF","#90EE90"]}, "legend": {"title": "Lines", "orient": "none", "legendX": 12, "legendY": 5}},
     "strokeDash": {"datum": "Smoothed", "scale": {"domain": ["Smoothed","Mean smoothed * 0.5","Peaks","Valleys"], "range": [[1,0],[1.5,2.5],[6,4],[1.5,3,6,3]]}, "legend": {"title": "Lines", "orient": "none", "legendX": 12, "legendY": 5}}}},
   {"data": {"values": [{"t": 3.48}]}, "mark": {"type": "rule", "strokeWidth": 1.1}, "encoding": {"y": {"field": "t", "type": "quantitative"}, "color": {"datum": "Mean smoothed * 0.5"}, "strokeDash": {"datum": "Mean smoothed * 0.5"}}},
   {"data": {"values": [{"p": 99.4}]}, "mark": {"type": "rule", "strokeWidth": 1.8}, "encoding": {"x": {"field": "p", "type": "quantitative"}, "color": {"datum": "Peaks"}, "strokeDash": {"datum": "Peaks"}}},
   {"data": {"values": [{"v": 97.5}, {"v": 98.8}]}, "mark": {"type": "rule", "strokeWidth": 1.3}, "encoding": {"x": {"field": "v", "type": "quantitative"}, "color": {"datum": "Valleys"}, "strokeDash": {"datum": "Valleys"}}}
  ]}
],
"config": {
 "font": "Liberation Sans",
 "view": {"stroke": "#a6a6a6", "strokeWidth": 1},
 "axis": {"labelFontSize": 17, "labelColor": "#4d4d4d", "titleFontSize": 21, "titleFontWeight": "normal", "titleColor": "black", "domain": false, "tickColor": "#333333", "tickSize": 3, "labelPadding": 2, "titlePadding": 0, "labelFlush": false, "labelOverlap": false, "grid": true, "gridWidth": 1},
 "axisY": {"titlePadding": 3},
 "title": {"anchor": "start", "frame": "group", "dx": -5, "fontSize": 13, "fontWeight": "normal", "color": "#333333", "subtitleFontSize": 11, "subtitleColor": "#555555", "subtitlePadding": 3, "offset": 5},
 "legend": {"titleFontSize": 14, "titleFontWeight": "normal", "titleColor": "black", "labelFontSize": 11, "labelColor": "black", "symbolType": "stroke", "symbolSize": 1024, "symbolStrokeWidth": 1.5, "clipHeight": 12.5, "labelOffset": 12, "fillColor": "white", "padding": 7, "titlePadding": 7, "rowPadding": 0}
}
}
